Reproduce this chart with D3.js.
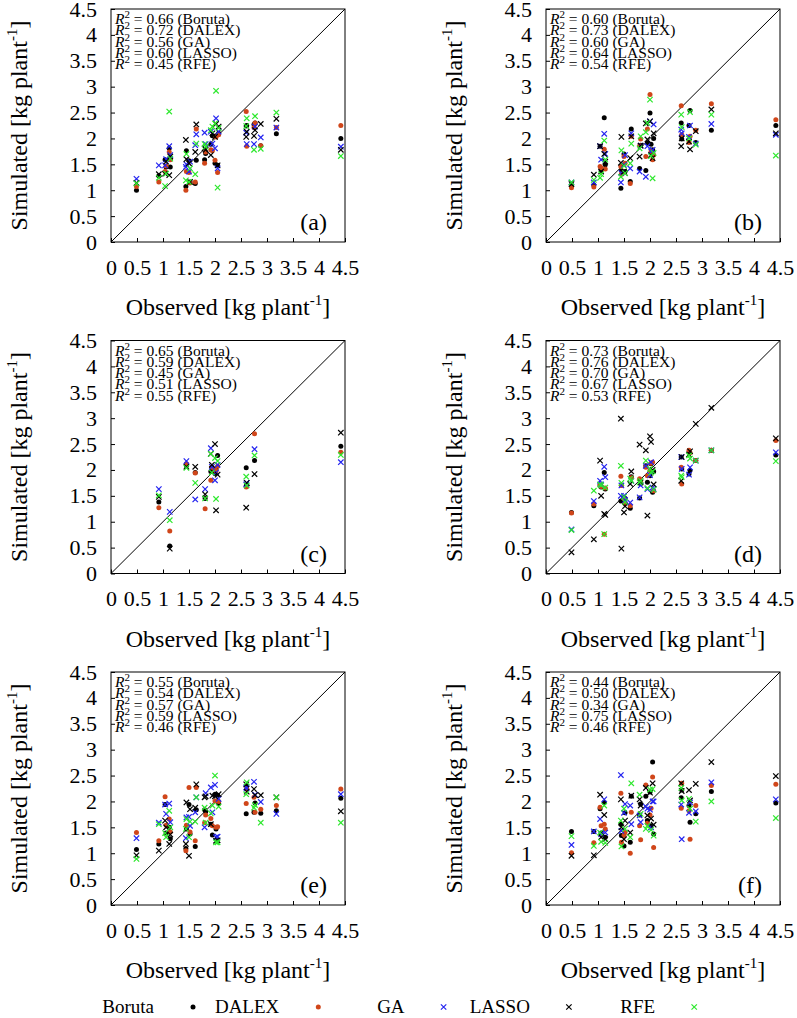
<!DOCTYPE html>
<html><head><meta charset="utf-8">
<script src="https://cdn.jsdelivr.net/npm/d3@7"></script>
<style>
body{margin:0;background:#fff}
svg{display:block}
text{font-family:"Liberation Serif","Times New Roman",serif;fill:#000}
</style>
</head><body>
<svg id="chart" width="797" height="1018"></svg>
<script>
// ---------------- DATA ----------------
const methods = ["Boruta", "DALEX", "GA", "LASSO", "RFE"];
const panelLabels = ["(a)", "(b)", "(c)", "(d)", "(e)", "(f)"];
const tickValues = [0, 0.5, 1, 1.5, 2, 2.5, 3, 3.5, 4, 4.5];
const tickLabels = ["0", "0.5", "1", "1.5", "2", "2.5", "3", "3.5", "4", "4.5"];

// observed yields (shared by panels a, b, d, e, f)
const observed = [0.49,0.92,1.04,1.06,1.12,1.14,1.44,1.45,1.50,1.52,1.62,1.64,1.80,1.82,1.92,1.95,2.00,2.02,2.05,2.07,2.60,2.61,2.75,2.77,2.88,3.18,4.42];
// observed yields of panel c
const observedC = [0.92,1.13,1.45,1.62,1.81,1.92,1.94,2.00,2.02,2.05,2.60,2.61,2.76,4.42];

// simulated yields, panel (a)
const simA_Boruta = [1.00,1.28,1.59,1.45,1.81,1.45,1.07,1.76,1.57,1.16,1.13,1.58,1.59,1.71,1.89,2.05,1.52,2.05,1.48,2.10,2.24,2.25,2.27,2.30,1.86,2.09,2.00];
const simA_DALEX  = [1.07,1.16,1.36,1.47,1.74,1.59,1.00,1.36,1.34,1.14,1.16,2.18,1.52,1.74,1.78,1.76,1.58,2.03,1.34,2.07,2.52,1.85,2.21,2.30,1.86,2.21,2.25];
const simA_GA     = [1.22,1.48,1.48,1.60,1.85,1.68,1.45,1.50,1.36,1.55,1.87,2.08,2.11,1.89,2.13,1.90,1.81,2.39,1.42,2.13,2.11,1.89,1.89,2.23,2.02,2.21,1.84];
const simA_LASSO  = [1.14,1.31,1.32,1.55,1.29,1.65,1.97,1.60,1.52,1.16,1.74,2.27,1.81,1.78,1.68,2.10,2.03,2.28,1.48,2.23,2.03,2.13,2.05,2.16,2.28,2.38,1.78];
const simA_RFE    = [1.13,1.24,1.08,1.32,2.52,1.61,1.19,1.70,1.16,1.42,1.31,1.90,1.89,1.84,2.16,2.23,2.29,2.92,1.05,2.20,2.24,2.39,1.78,2.43,1.80,2.50,1.66];

// panel (b)
const simB_Boruta = [1.10,1.10,1.85,1.39,2.40,1.49,1.04,1.38,1.70,1.36,1.17,2.18,1.42,1.87,1.38,1.91,2.49,1.89,1.78,2.00,2.30,1.99,2.25,2.54,1.92,2.16,2.25];
const simB_DALEX  = [1.05,1.06,1.46,1.43,1.79,1.41,1.46,1.31,1.65,1.52,1.13,2.04,1.86,1.99,1.65,2.18,2.85,1.75,1.59,1.68,2.63,2.07,1.92,2.04,2.16,2.67,2.36];
const simB_GA     = [1.15,1.15,1.85,1.59,2.09,1.70,1.15,1.33,1.49,1.68,1.42,2.10,1.36,1.86,1.26,1.85,2.33,1.75,1.78,2.27,2.17,2.10,2.03,2.25,1.90,2.28,2.07];
const simB_LASSO  = [1.12,1.30,1.85,1.36,1.70,1.55,1.53,2.03,1.36,1.33,1.62,2.04,1.65,1.86,2.29,1.98,2.33,1.68,1.62,2.10,1.85,2.00,1.94,1.79,2.14,2.56,2.10];
const simB_RFE    = [1.15,1.20,1.24,1.31,1.96,1.59,1.26,1.77,1.47,1.33,1.52,1.90,1.81,2.04,2.12,2.30,2.75,1.66,1.23,1.72,2.46,2.22,2.00,2.51,1.88,2.46,1.67];

// panel (c)
const simC_Boruta = [1.38,0.53,2.08,1.95,1.45,1.97,2.05,1.93,2.02,2.28,2.04,1.70,2.18,2.46];
const simC_DALEX  = [1.27,0.82,2.12,1.94,1.25,1.80,2.05,2.00,1.98,2.07,1.67,1.68,2.70,2.34];
const simC_GA     = [1.63,1.19,2.17,1.43,1.63,2.42,2.06,1.80,1.95,2.10,1.72,1.75,2.40,2.15];
const simC_LASSO  = [1.48,0.48,2.06,2.06,1.53,2.31,2.10,2.50,1.22,1.91,1.27,1.75,1.92,2.72];
const simC_RFE    = [1.51,1.03,2.04,1.75,1.45,2.31,1.95,2.23,1.44,2.17,1.87,1.70,2.28,2.29];

// panel (d)
const simD_Boruta = [1.18,1.31,1.71,1.67,1.95,1.63,1.40,1.71,1.47,1.45,1.26,1.87,1.46,1.74,2.08,1.76,1.89,2.12,1.57,1.97,2.25,2.02,1.92,1.99,2.18,2.38,2.29];
const simD_DALEX  = [1.17,1.34,1.70,1.68,0.76,1.65,1.88,1.70,1.45,1.35,1.31,1.85,1.83,1.76,2.05,1.89,1.99,2.13,2.15,1.60,2.05,1.73,2.38,2.33,2.18,2.38,2.57];
const simD_GA     = [0.85,1.40,1.79,1.72,2.06,1.86,1.50,1.70,1.50,1.42,1.37,1.79,1.47,1.70,2.08,1.63,1.90,2.15,1.66,1.63,2.25,2.02,1.91,2.05,2.18,2.38,2.34];
const simD_LASSO  = [0.41,0.66,2.18,1.50,1.15,1.13,2.99,0.48,1.18,1.30,1.73,1.97,2.49,1.76,2.38,1.12,2.65,2.54,2.00,1.72,1.79,2.25,2.30,2.36,2.89,3.20,2.61];
const simD_RFE    = [0.84,1.60,1.72,1.70,0.76,1.66,2.08,1.75,1.48,1.38,1.83,1.79,1.76,1.79,2.18,1.65,2.02,1.95,1.97,1.62,1.89,1.86,2.28,2.22,2.18,2.38,2.17];

// panel (e)
const simE_Boruta = [1.07,1.18,1.94,1.39,1.50,1.28,1.09,1.47,1.94,1.37,1.13,1.84,1.84,1.80,1.56,1.35,2.14,1.47,2.12,1.96,1.76,2.30,1.79,1.97,1.77,1.82,2.06];
const simE_DALEX  = [1.40,1.24,2.09,1.54,1.66,1.41,1.05,1.54,2.27,1.41,1.24,2.27,1.59,1.74,1.67,1.53,2.01,1.50,1.51,2.00,1.96,2.24,2.08,1.79,1.85,1.92,2.24];
const simE_GA     = [1.29,1.59,1.94,1.76,1.96,1.60,1.29,1.69,1.70,1.53,1.79,2.08,1.50,2.16,2.27,1.79,2.32,1.31,1.32,2.05,2.27,2.25,2.38,2.13,1.99,1.76,2.14];
const simE_LASSO  = [0.96,1.05,1.63,1.50,1.18,1.36,1.18,1.98,0.95,1.85,1.88,2.33,2.08,2.10,1.56,2.11,2.10,1.24,1.25,2.14,2.33,2.19,2.24,2.12,2.12,2.08,1.81];
const simE_RFE    = [0.89,1.56,1.39,1.31,1.82,1.50,1.47,1.66,1.31,1.61,1.61,2.08,1.88,1.59,1.77,1.92,2.50,1.21,1.21,1.90,2.14,2.37,1.88,1.93,1.59,2.08,1.59];

// panel (f)
const simF_Boruta = [1.42,1.42,1.86,1.39,1.98,1.31,1.56,1.34,1.14,1.78,1.21,2.10,1.74,1.95,2.10,1.63,2.18,1.53,2.76,1.37,2.07,2.22,1.92,1.60,1.76,2.19,1.97];
const simF_DALEX  = [1.01,1.20,1.89,1.53,1.56,1.47,2.16,1.21,1.34,1.40,1.00,1.79,1.53,1.26,2.32,1.58,1.74,1.87,2.47,1.11,1.87,2.35,1.82,1.27,1.92,2.31,2.33];
const simF_GA     = [1.16,1.42,1.66,1.37,2.04,1.40,2.51,1.43,1.78,1.95,1.92,1.56,1.73,1.60,1.90,1.86,1.84,1.50,2.00,2.00,1.94,1.27,1.78,1.98,1.81,2.37,2.04];
const simF_LASSO  = [0.95,0.96,2.13,1.31,1.74,1.27,2.04,1.50,1.27,1.63,1.40,2.11,2.04,1.92,2.26,1.73,2.17,1.67,2.35,1.55,2.35,2.20,2.22,2.02,2.34,2.76,2.49];
const simF_RFE    = [1.33,1.14,1.40,1.22,1.92,1.20,1.63,1.13,1.86,1.47,1.31,2.35,2.13,1.76,1.47,1.53,2.23,1.45,2.24,1.34,2.26,2.02,2.05,1.86,1.61,2.00,1.68];

// R^2 per panel (order: Boruta, DALEX, GA, LASSO, RFE)
const r2A = ["0.66","0.72","0.56","0.60","0.45"];
const r2B = ["0.60","0.73","0.60","0.64","0.54"];
const r2C = ["0.65","0.59","0.45","0.51","0.55"];
const r2D = ["0.73","0.76","0.70","0.67","0.53"];
const r2E = ["0.55","0.54","0.57","0.59","0.46"];
const r2F = ["0.44","0.50","0.34","0.75","0.46"];

// ---------------- STYLE / LAYOUT ----------------
const styles = [
  {shape: "dot",   color: "#000000"},
  {shape: "dot",   color: "#d0461a"},
  {shape: "cross", color: "#2424f0"},
  {shape: "cross", color: "#000000"},
  {shape: "cross", color: "#2ee82e"}
];
const W = 234, H = 233;
const colX = [111, 546];
const rowY = [9, 340.5, 672];

const panels = [
  {obs: observed,  sims: [simA_Boruta, simA_DALEX, simA_GA, simA_LASSO, simA_RFE], r2: r2A},
  {obs: observed,  sims: [simB_Boruta, simB_DALEX, simB_GA, simB_LASSO, simB_RFE], r2: r2B},
  {obs: observedC, sims: [simC_Boruta, simC_DALEX, simC_GA, simC_LASSO, simC_RFE], r2: r2C},
  {obs: observed,  sims: [simD_Boruta, simD_DALEX, simD_GA, simD_LASSO, simD_RFE], r2: r2D},
  {obs: observed,  sims: [simE_Boruta, simE_DALEX, simE_GA, simE_LASSO, simE_RFE], r2: r2E},
  {obs: observed,  sims: [simF_Boruta, simF_DALEX, simF_GA, simF_LASSO, simF_RFE], r2: r2F}
];

const svg = d3.select("#chart");
const x = d3.scaleLinear().domain([0, 4.5]).range([0, W]);
const y = d3.scaleLinear().domain([0, 4.5]).range([H, 0]);
const fmt = d => tickLabels[tickValues.indexOf(d)];
const crossPath = "M-2.7,-2.7L2.7,2.7M-2.7,2.7L2.7,-2.7";

function drawMarker(sel, shape, color) {
  if (shape === "dot") {
    sel.append("circle").attr("r", 2.5).attr("fill", color);
  } else {
    sel.append("path").attr("d", crossPath).attr("fill", "none")
      .attr("stroke", color).attr("stroke-width", 1.2);
  }
}

function titleText(sel, main) {
  sel.append("tspan").text(main + " [kg plant");
  sel.append("tspan").attr("dy", -10).attr("font-size", 15).text("-1");
  sel.append("tspan").attr("dy", 10).text("]");
}

panels.forEach((p, i) => {
  const col = i % 2, row = Math.floor(i / 2);
  const g = svg.append("g").attr("transform", `translate(${colX[col]},${rowY[row]})`);

  // axes with inward ticks
  const ya = g.append("g").call(d3.axisLeft(y).tickValues(tickValues).tickFormat(fmt)
      .tickSizeInner(-4).tickSizeOuter(0).tickPadding(14));
  const xa = g.append("g").attr("transform", `translate(0,${H})`)
    .call(d3.axisBottom(x).tickValues(tickValues).tickFormat(fmt)
      .tickSizeInner(-4).tickSizeOuter(0).tickPadding(17));
  [ya, xa].forEach(a => {
    a.attr("font-family", null).attr("font-size", null);
    a.select(".domain").remove();
    a.selectAll("line").attr("stroke", "#000").attr("stroke-width", 1);
    a.selectAll("text").attr("font-size", 22).attr("fill", "#000");
  });

  // frame
  g.append("rect").attr("x", 0).attr("y", 0).attr("width", W).attr("height", H)
    .attr("fill", "none").attr("stroke", "#000").attr("stroke-width", 1);

  // 1:1 line
  g.append("line").attr("x1", x(0)).attr("y1", y(0)).attr("x2", x(4.5)).attr("y2", y(4.5))
    .attr("stroke", "#000").attr("stroke-width", 1);

  // points
  p.sims.forEach((arr, m) => {
    const pts = g.append("g").selectAll("g").data(arr.map((v, k) => [p.obs[k], v]))
      .join("g").attr("transform", d => `translate(${x(d[0])},${y(d[1])})`);
    drawMarker(pts, styles[m].shape, styles[m].color);
  });

  // R^2 annotations
  p.r2.forEach((r, m) => {
    const t = g.append("text").attr("x", 4).attr("y", 15 + m * 11.3).attr("font-size", 15.5);
    t.append("tspan").attr("font-style", "italic").text("R");
    t.append("tspan").attr("dy", -6).attr("font-size", 11).text("2");
    t.append("tspan").attr("dy", 6).text(` = ${r} (${methods[m]})`);
  });

  // panel letter
  g.append("text").attr("x", W - 18).attr("y", H - 12).attr("text-anchor", "end")
    .attr("font-size", 24).text(panelLabels[i]);

  // axis titles
  g.append("text").attr("x", W / 2).attr("y", H + 73).attr("text-anchor", "middle")
    .attr("font-size", 24).call(titleText, "Observed");
  g.append("text").attr("transform", `translate(-84,${H / 2}) rotate(-90)`)
    .attr("text-anchor", "middle").attr("font-size", 24).call(titleText, "Simulated");
});

// legend
const legend = svg.append("g");
methods.forEach((m, i) => {
  const sx = 193 + i * 125.3;
  legend.append("text").attr("x", sx - 39).attr("y", 1013).attr("text-anchor", "end")
    .attr("font-size", 19).text(m);
  const mk = legend.append("g").attr("transform", `translate(${sx},1007)`);
  drawMarker(mk, styles[i].shape, styles[i].color);
});
</script>
</body></html>
